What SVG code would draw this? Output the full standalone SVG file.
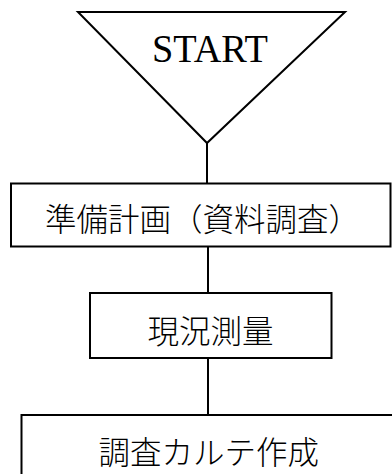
<svg xmlns="http://www.w3.org/2000/svg" width="392" height="474" viewBox="0 0 392 474">
<style>
.shape{fill:#fff;stroke:#000;stroke-width:2}
.conn{stroke:#000;stroke-width:2;fill:none}
.jp{font-family:"Noto Sans CJK JP","Noto Sans",sans-serif;font-size:31.5px;font-weight:300;fill:#000}
.en{font-family:"Liberation Serif","DejaVu Serif",serif;font-size:39px;fill:#000}
</style>
<rect width="392" height="474" fill="#fff"/>
<g id="connectors">
<line class="conn" x1="207" y1="143" x2="207" y2="184"/>
<line class="conn" x1="208" y1="247" x2="208" y2="293"/>
<line class="conn" x1="208" y1="358" x2="208" y2="415"/>
</g>
<g id="start">
<polygon class="shape" points="78,12 345,12 207,143"/>
<text class="en" x="152" y="62" textLength="116" lengthAdjust="spacingAndGlyphs">START</text>
</g>
<g id="n1">
<rect class="shape" x="11" y="183.5" width="379.5" height="63"/>
<text class="jp" x="45" y="231">準備計画（資料調査）</text>
</g>
<g id="n2">
<rect class="shape" x="90" y="293" width="241.5" height="65"/>
<text class="jp" x="147.5" y="342.5">現況測量</text>
</g>
<g id="n3">
<rect class="shape" x="21.5" y="415" width="380" height="70"/>
<text class="jp" x="98.5" y="464">調査カルテ作成</text>
</g>
</svg>
